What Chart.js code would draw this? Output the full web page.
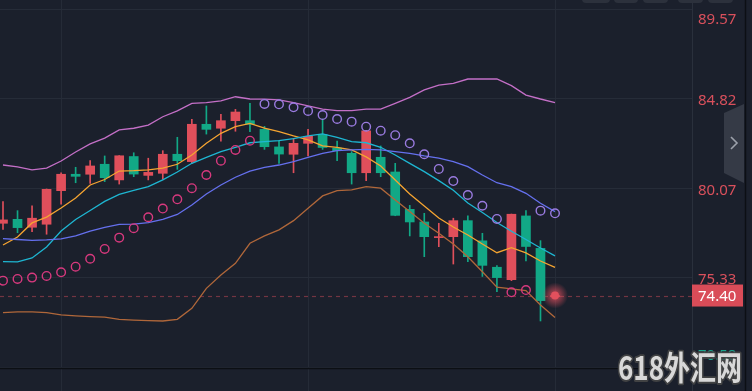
<!DOCTYPE html>
<html>
<head>
<meta charset="utf-8">
<script src="https://cdn.jsdelivr.net/npm/chart.js@4.4.1/dist/chart.umd.min.js"></script>
<style>
  html, body { margin: 0; padding: 0; background: #1b202c; overflow: hidden; }
  canvas { display: block; }
</style>
</head>
<body>
<canvas id="kline" width="752" height="391"></canvas>
<script>
// candles, oldest first (index 0..38)
const opens = [78.23, 78.44, 78.02, 78.18, 79.96, 80.83, 80.83, 81.36, 80.53, 81.77, 80.77, 80.88, 81.89, 81.50, 83.48, 83.27, 83.67, 83.67, 83.21, 82.28, 81.89, 82.47, 82.94, 82.22, 81.94, 80.91, 81.73, 80.95, 78.97, 78.30, 77.47, 77.52, 78.37, 77.30, 75.90, 75.24, 78.62, 76.90, 74.34];
const highs = [79.38, 78.90, 79.16, 80.05, 80.91, 81.20, 81.55, 81.80, 81.82, 81.97, 81.68, 82.08, 82.79, 83.74, 84.45, 84.01, 84.27, 84.59, 83.37, 82.62, 82.73, 83.21, 83.76, 82.59, 82.03, 83.16, 82.33, 81.41, 79.18, 78.76, 78.23, 78.50, 78.62, 77.70, 75.99, 78.72, 78.90, 77.31, 74.45];
const lows = [77.91, 77.73, 77.79, 77.65, 79.24, 80.38, 80.35, 80.44, 80.31, 80.70, 80.53, 80.56, 81.09, 81.41, 82.96, 82.59, 83.11, 83.09, 82.15, 81.40, 80.91, 81.80, 82.15, 81.55, 80.31, 80.49, 80.70, 78.63, 77.56, 76.46, 76.99, 76.07, 76.19, 75.41, 74.60, 75.19, 76.23, 73.05, 74.30];
const closes = [78.41, 78.00, 78.50, 80.03, 80.83, 80.72, 81.27, 80.65, 81.81, 80.84, 80.93, 81.89, 81.55, 83.48, 83.21, 83.67, 84.13, 83.48, 82.29, 81.90, 82.47, 82.84, 82.25, 82.08, 80.91, 83.13, 80.91, 78.65, 78.30, 77.52, 77.52, 78.37, 76.46, 76.00, 75.35, 78.71, 77.00, 74.13, 74.40];

// indicators
const ma5 = [77.08, 77.50, 78.25, 78.56, 79.04, 79.57, 80.26, 80.55, 81.00, 81.02, 81.06, 81.15, 81.36, 81.85, 82.47, 83.00, 83.35, 83.53, 83.27, 83.09, 82.86, 82.65, 82.33, 82.26, 82.12, 81.75, 81.27, 80.53, 79.78, 79.15, 78.51, 78.03, 77.61, 77.13, 76.67, 76.94, 76.66, 76.23, 75.89];
const ma10 = [76.20, 76.18, 76.39, 76.97, 77.82, 78.43, 78.91, 79.39, 79.76, 79.97, 80.18, 80.53, 80.95, 81.41, 81.73, 82.03, 82.26, 82.50, 82.56, 82.61, 82.72, 82.86, 82.97, 82.79, 82.56, 82.50, 82.26, 81.85, 81.41, 80.97, 80.49, 79.98, 79.31, 78.80, 78.27, 77.81, 77.37, 76.92, 76.50];
const bollUp = [81.32, 81.22, 81.06, 81.16, 81.53, 82.01, 82.44, 82.75, 83.18, 83.27, 83.44, 83.88, 84.19, 84.59, 84.63, 84.72, 84.94, 84.82, 84.81, 84.77, 84.63, 84.45, 84.28, 84.20, 84.20, 84.28, 84.28, 84.59, 84.91, 85.30, 85.56, 85.65, 85.88, 85.88, 85.88, 85.53, 85.03, 84.82, 84.63];
const bollMid = [77.42, 77.37, 77.32, 77.35, 77.40, 77.56, 77.82, 78.01, 78.17, 78.19, 78.27, 78.44, 78.70, 79.20, 79.78, 80.26, 80.67, 81.00, 81.19, 81.32, 81.50, 81.73, 81.94, 82.08, 82.12, 82.15, 82.12, 82.03, 81.94, 81.80, 81.68, 81.50, 81.23, 80.79, 80.38, 80.17, 79.82, 79.29, 78.85];
const bollLow = [73.49, 73.53, 73.53, 73.49, 73.37, 73.32, 73.28, 73.25, 73.14, 73.10, 73.07, 73.05, 73.14, 73.72, 74.78, 75.49, 76.11, 77.17, 77.56, 77.88, 78.37, 79.03, 79.68, 79.96, 80.00, 80.17, 80.09, 79.47, 78.85, 78.23, 77.70, 77.13, 76.46, 75.66, 74.84, 74.75, 74.66, 73.90, 73.24];
const sar = [75.19, 75.28, 75.35, 75.44, 75.63, 75.93, 76.35, 76.87, 77.47, 77.97, 78.55, 79.01, 79.50, 80.09, 80.79, 81.55, 82.12, 82.61, 84.56, 84.54, 84.38, 84.19, 83.97, 83.76, 83.62, 83.35, 83.14, 82.90, 82.47, 81.89, 81.11, 80.47, 79.73, 79.16, 78.46, 74.57, 74.69, 78.90, 78.76];

const priceTicks = [70.58, 75.33, 80.07, 84.82, 89.57];
const timeGrid = [4, 21, 38];
const lastPrice = 74.40;

const RED = "#e04f5b";
const GREEN = "#12a886";

const candleColors = closes.map((c, i) => (c >= opens[i] ? RED : GREEN));
const sarColors = sar.map((s, i) => (s > closes[i] ? "#9a7be0" : "#d8397e"));
const xy = (arr) => arr.map((v, i) => ({ x: i, y: v }));

const lineSet = (arr, color) => ({
  type: "line",
  data: xy(arr),
  borderColor: color,
  borderWidth: 1.3,
  pointRadius: 0,
  tension: 0,
  order: 2,
});

// background, last price line, axis labels and the bits of UI around the chart
const decor = {
  id: "decor",
  beforeDraw(chart) {
    const { ctx, width, height } = chart;
    ctx.save();
    ctx.fillStyle = "#1b202c";
    ctx.fillRect(0, 0, width, height);
    ctx.restore();
  },
  beforeDatasetsDraw(chart) {
    const { ctx, chartArea, scales } = chart;
    const y = Math.round(scales.y.getPixelForValue(lastPrice)) + 0.5;
    ctx.save();
    ctx.strokeStyle = "rgba(224,80,94,0.45)";
    ctx.lineWidth = 1.2;
    ctx.setLineDash([4, 4]);
    ctx.beginPath();
    ctx.moveTo(chartArea.left, y);
    ctx.lineTo(chartArea.right, y);
    ctx.stroke();
    ctx.restore();
  },
  afterDatasetsDraw(chart) {
    const { ctx, scales } = chart;
    const x = scales.x.getPixelForValue(closes.length - 1);
    const y = scales.y.getPixelForValue(lastPrice);
    ctx.save();
    const g = ctx.createRadialGradient(x, y, 2, x, y, 13);
    g.addColorStop(0, "rgba(230,80,95,0.75)");
    g.addColorStop(1, "rgba(230,80,95,0)");
    ctx.fillStyle = g;
    ctx.beginPath();
    ctx.arc(x, y, 13, 0, Math.PI * 2);
    ctx.fill();
    ctx.fillStyle = "#e2505d";
    ctx.beginPath();
    ctx.arc(x, y, 4, 0, Math.PI * 2);
    ctx.fill();
    ctx.restore();
  },
  afterDraw(chart) {
    const { ctx, chartArea, scales } = chart;
    ctx.save();

    // bottom separator
    ctx.strokeStyle = "#0c0f14";
    ctx.lineWidth = 1.5;
    ctx.beginPath();
    ctx.moveTo(0, 368.5);
    ctx.lineTo(chartArea.right, 368.5);
    ctx.stroke();
    ctx.beginPath();
    ctx.moveTo(745.5, 0);
    ctx.lineTo(745.5, 391);
    ctx.stroke();

    // price labels
    ctx.font = "15px 'Noto Sans', sans-serif";
    ctx.textBaseline = "middle";
    ctx.textAlign = "left";
    priceTicks.forEach((v) => {
      let y = scales.y.getPixelForValue(v) + 2;
      y = Math.min(Math.max(y, 20), 356);
      ctx.fillStyle = v >= lastPrice ? "#d9505c" : "#19a68c";
      ctx.fillText(v.toFixed(2), 698, y);
    });

    // last price tag
    const ty = scales.y.getPixelForValue(lastPrice);
    ctx.fillStyle = "#d94c58";
    ctx.fillRect(chartArea.right, ty - 11, 51, 22);
    ctx.fillStyle = "#ffffff";
    ctx.fillText(lastPrice.toFixed(2), 698, ty + 1);

    // side tab with chevron
    ctx.fillStyle = "#353a46";
    ctx.beginPath();
    ctx.moveTo(724, 113);
    ctx.lineTo(744, 104);
    ctx.lineTo(744, 183);
    ctx.lineTo(724, 173);
    ctx.closePath();
    ctx.fill();
    ctx.strokeStyle = "#9ca1ab";
    ctx.lineWidth = 1.6;
    ctx.beginPath();
    ctx.moveTo(731, 137);
    ctx.lineTo(737, 143);
    ctx.lineTo(731, 149);
    ctx.stroke();

    // toolbar buttons peeking in at the top
    ctx.fillStyle = "#2c313c";
    [[582, 610], [614, 638], [643, 668], [678, 703], [708, 733]].forEach(([a, b]) => {
      ctx.beginPath();
      ctx.roundRect(a, -8, b - a, 11, 4);
      ctx.fill();
    });

    // watermark
    ctx.translate(618, 380);
    ctx.scale(1, 1.25);
    ctx.font = "bold 26px 'Noto Sans CJK SC', sans-serif";
    ctx.textBaseline = "alphabetic";
    ctx.lineJoin = "round";
    ctx.lineWidth = 3;
    ctx.strokeStyle = "rgba(70,70,70,0.9)";
    ctx.strokeText("618外汇网", 0, 0);
    ctx.fillStyle = "#d8d8d8";
    ctx.fillText("618外汇网", 0, 0);
    ctx.restore();
  },
};

new Chart(document.getElementById("kline"), {
  type: "bar",
  data: {
    datasets: [
      {
        // wicks
        data: lows.map((l, i) => ({ x: i, y: [l, highs[i]] })),
        backgroundColor: candleColors,
        barThickness: 1,
        grouped: false,
        borderWidth: 0,
        order: 5,
      },
      {
        // bodies
        data: opens.map((o, i) => ({ x: i, y: [o, closes[i]] })),
        backgroundColor: candleColors,
        barThickness: 9,
        grouped: false,
        borderWidth: 0,
        minBarLength: 1,
        order: 4,
      },
      lineSet(bollUp, "#c46fc7"),
      lineSet(bollMid, "#6570ee"),
      lineSet(bollLow, "#b0673a"),
      lineSet(ma10, "#1eb6d2"),
      lineSet(ma5, "#f5a431"),
      {
        type: "line",
        data: xy(sar),
        showLine: false,
        pointRadius: 4.3,
        pointBorderWidth: 1.4,
        pointBackgroundColor: "rgba(0,0,0,0)",
        pointBorderColor: sarColors,
        order: 1,
      },
    ],
  },
  options: {
    responsive: false,
    animation: false,
    layout: { padding: 0, autoPadding: false },
    plugins: { legend: { display: false }, tooltip: { enabled: false } },
    scales: {
      x: {
        type: "linear",
        min: -0.2065,
        max: 47.43,
        offset: false,
        afterBuildTicks: (s) => { s.ticks = timeGrid.map((v) => ({ value: v })); },
        afterFit: (s) => { s.height = 0; s.paddingLeft = 0; s.paddingRight = 0; },
        grid: { color: "#252b37", drawTicks: false, offset: false },
        border: { display: false },
        ticks: { display: false },
      },
      y: {
        type: "linear",
        position: "right",
        min: 69.338,
        max: 90.069,
        afterBuildTicks: (s) => { s.ticks = priceTicks.map((v) => ({ value: v })); },
        afterFit: (s) => { s.width = 60; s.paddingTop = 0; s.paddingBottom = 0; },
        grid: { color: "#262c38", drawTicks: false },
        border: { display: true, color: "#2a303c" },
        ticks: { display: false },
      },
    },
  },
  plugins: [decor],
});
</script>
</body>
</html>
